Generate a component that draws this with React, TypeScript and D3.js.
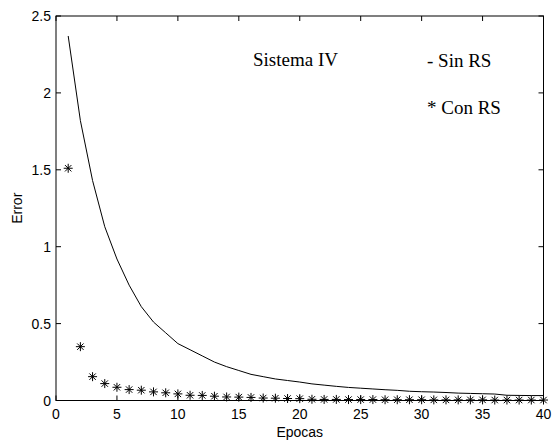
import React from "react";
import * as d3 from "d3";

const epochs = d3.range(1, 41);
const sinRS = [2.37, 1.82, 1.43, 1.13, 0.92, 0.75, 0.61, 0.51, 0.44, 0.37,
  0.33, 0.29, 0.25, 0.22, 0.195, 0.17, 0.155, 0.14, 0.13, 0.12,
  0.108, 0.1, 0.092, 0.085, 0.08, 0.075, 0.07, 0.066, 0.06, 0.057,
  0.055, 0.052, 0.048, 0.046, 0.044, 0.042, 0.034, 0.033, 0.032, 0.032];
const conRS = [1.51, 0.35, 0.155, 0.11, 0.086, 0.071, 0.067, 0.056, 0.05, 0.043,
  0.034, 0.033, 0.028, 0.023, 0.022, 0.02, 0.016, 0.015, 0.013, 0.012,
  0.008, 0.007, 0.007, 0.006, 0.006, 0.006, 0.005, 0.005, 0.005, 0.005,
  0.004, 0.004, 0.004, 0.004, 0.004, 0.003, 0.003, 0.003, 0.003, 0.003];
const xTicks = [0, 5, 10, 15, 20, 25, 30, 35, 40];
const yTicks = [0, 0.5, 1, 1.5, 2, 2.5];
const xLabel = "Epocas";
const yLabel = "Error";
const annotations = ["Sistema IV", "- Sin RS", "* Con RS"];

export default function App() {
  const L = 56, R = 543.5, T = 16, B = 400.5;
  const x = d3.scaleLinear().domain([0, 40]).range([L, R]);
  const y = d3.scaleLinear().domain([0, 2.5]).range([B, T]);
  const line = d3.line<number>().x((_, i) => x(epochs[i])).y((d) => y(d));
  const star = "M-4.5,0H4.5M0,-4.5V4.5M-3.2,-3.2L3.2,3.2M-3.2,3.2L3.2,-3.2";
  const sans = "'Liberation Sans', Arial, sans-serif";
  const serif = "'Liberation Serif', 'Times New Roman', serif";
  return (
    <svg width={554} height={443} style={{ position: "absolute", left: 0, top: 0, background: "#fff" }}>
      <rect x={0} y={0} width={554} height={443} fill="#fff" />
      <rect x={L} y={T} width={R - L} height={B - T} fill="none" stroke="#000" strokeWidth={1} />
      {xTicks.map((t) => (
        <g key={"x" + t}>
          <line x1={x(t)} x2={x(t)} y1={B} y2={B - 5} stroke="#000" />
          <line x1={x(t)} x2={x(t)} y1={T} y2={T + 5} stroke="#000" />
          <text x={x(t)} y={419} textAnchor="middle" fontFamily={sans} fontSize={14}>{t}</text>
        </g>
      ))}
      {yTicks.map((t) => (
        <g key={"y" + t}>
          <line x1={L} x2={L + 5} y1={y(t)} y2={y(t)} stroke="#000" />
          <line x1={R} x2={R - 5} y1={y(t)} y2={y(t)} stroke="#000" />
          <text x={51} y={y(t) + 5} textAnchor="end" fontFamily={sans} fontSize={14}>{String(t)}</text>
        </g>
      ))}
      <text x={(L + R) / 2} y={437} textAnchor="middle" fontFamily={sans} fontSize={14}>{xLabel}</text>
      <text transform={`translate(22,${(T + B) / 2}) rotate(-90)`} textAnchor="middle" fontFamily={sans} fontSize={14}>{yLabel}</text>
      <path d={line(sinRS) || ""} fill="none" stroke="#000" strokeWidth={1} />
      {conRS.map((v, i) => (
        <path key={i} d={star} transform={`translate(${x(epochs[i])},${y(v)})`} stroke="#000" strokeWidth={1} fill="none" />
      ))}
      <text x={253} y={66} fontFamily={serif} fontSize={19}>{annotations[0]}</text>
      <text x={427} y={67} fontFamily={serif} fontSize={19}>{annotations[1]}</text>
      <text x={427} y={114} fontFamily={serif} fontSize={19}>{annotations[2]}</text>
    </svg>
  );
}
